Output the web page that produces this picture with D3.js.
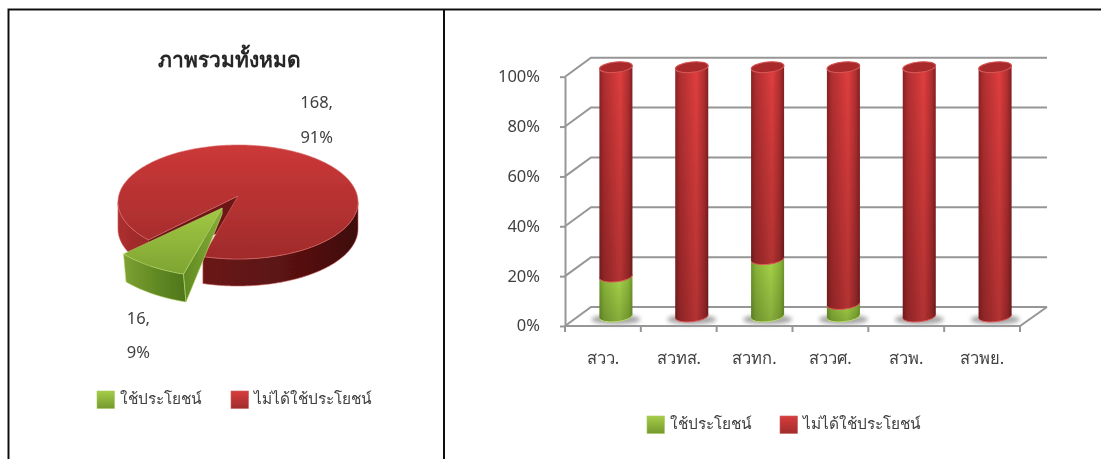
<!DOCTYPE html>
<html><head><meta charset="utf-8">
<script src="https://cdn.jsdelivr.net/npm/d3@7"></script>
<style>html,body{margin:0;background:#fff}svg{display:block}text{font-family:"Noto Sans",sans-serif;fill:#404040}</style>
</head><body><svg id="c" width="1101" height="459"></svg>
<script>
// ---- data ----
const pieTitle = "ภาพรวมทั้งหมด";
const seriesNames = ["ใช้ประโยชน์", "ไม่ได้ใช้ประโยชน์"];
const pieCounts = [16, 168];
const piePercents = ["9%", "91%"];
const categories = ["สวว.", "สวทส.", "สวทก.", "สววศ.", "สวพ.", "สวพย."];
const usedShare = [16, 0, 23, 5, 0, 0];
const unusedShare = [84, 100, 77, 95, 100, 100];
const yTicks = [0, 20, 40, 60, 80, 100];

const svg = d3.select("#c");
const defs = svg.append("defs");
function grad(id, x2, y2, stops){
  const g = defs.append("linearGradient").attr("id", id).attr("x1",0).attr("y1",0).attr("x2",x2).attr("y2",y2);
  stops.forEach(s => g.append("stop").attr("offset", s[0]).attr("stop-color", s[1]).attr("stop-opacity", s[2] === undefined ? 1 : s[2]));
}
grad("barRed",1,0,[[0,"#8a2224"],[.14,"#b02e30"],[.64,"#e03e3e"],[.88,"#b02e30"],[1,"#822022"]]);
grad("barGreen",1,0,[[0,"#6e982c"],[.15,"#8cb83a"],[.6,"#a8d64a"],[.88,"#8cb83a"],[1,"#709a2a"]]);
grad("barShade",0,1,[[0,"#000",0],[1,"#000",.2]]);
grad("pieTop",0,1,[[0,"#cc3838"],[1,"#a02b2b"]]);
grad("pieSide",1,0,[[0,"#ad2f2f"],[.12,"#9a2828"],[.36,"#6a1616"],[.75,"#581111"],[1,"#3e0a0a"]]);
grad("greenTop",0,1,[[0,"#a2c844"],[1,"#7ea432"]]);
grad("greenSide",1,0,[[0,"#7fa132"],[.5,"#628a24"],[1,"#4e761b"]]);
grad("greenWall",1,0,[[0,"#5f8a22"],[1,"#86ac36"]]);
grad("swGreen",0,1,[[0,"#a5cc48"],[1,"#75992e"]]);
grad("swRed",0,1,[[0,"#d83c3c"],[1,"#a02c2c"]]);
defs.append("filter").attr("id","soft").attr("x","-5%").attr("y","-5%").attr("width","110%").attr("height","110%")
  .append("feGaussianBlur").attr("stdDeviation",.45);
defs.append("filter").attr("id","shadow").attr("x","-30%").attr("y","-80%").attr("width","160%").attr("height","260%")
  .append("feGaussianBlur").attr("stdDeviation",2);

const root = svg.append("g").attr("filter","url(#soft)");

// ---- frame ----
root.append("path").attr("d","M8.5,459V9.5H1101M444,9.5V459").attr("fill","none").attr("stroke","#111").attr("stroke-width",2);

// ---- pie ----
const P = {cx:238, cy:202, rx:120, ry:57, th:27, apexLift:6, explode:.23, gScaleX:1.1, gScaleY:1.21, gTh:28};
root.append("text").attr("x",229).attr("y",67).attr("text-anchor","middle").attr("font-size",21).attr("font-weight",700).style("fill","#262626").text(pieTitle);
const startA = 197 * Math.PI/180;
const arcs = d3.pie().sort(null).startAngle(startA).endAngle(startA + 2*Math.PI)(pieCounts);
const [gArc, rArc] = arcs;
const project = (a, r, o={}) => [
  (o.x||P.cx) + P.rx*(o.sx||1)*r*Math.sin(a),
  (o.y||P.cy) - P.ry*(o.sy||1)*r*Math.cos(a) - (o.lift===undefined?P.apexLift:o.lift)*(1-r)
];
const samples = (a0, a1) => d3.range(0, 181).map(i => a0 + (a1-a0)*i/180);
const line = d3.line();
// red side: the parts of the rim that face the viewer
const sideParts = [[Math.PI/2, rArc.endAngle-2*Math.PI], [rArc.startAngle, 1.5*Math.PI]];
const sidePts = (a0,a1) => { const top = samples(a0,a1).map(a=>project(a,1));
  return top.concat(top.slice().reverse().map(p=>[p[0],p[1]+P.th])); };
root.append("path").attr("fill","url(#pieSide)").attr("stroke","#d06060").attr("stroke-width",.6)
  .attr("d", sideParts.map(s=>line(sidePts(s[0],s[1]))+"Z").join(""));
// cut wall seen through the gap
const apex = project(0,0), cutL = project(rArc.startAngle,1);
root.append("path").attr("fill","#6e1717").attr("d", line([apex,cutL,[cutL[0],cutL[1]+P.th],[apex[0],apex[1]+P.th]])+"Z");
root.append("path").attr("fill","url(#pieTop)").attr("stroke","#d96a6a").attr("stroke-width",.6)
  .attr("d", line([apex].concat(samples(rArc.startAngle, rArc.endAngle).map(a=>project(a,1))))+"Z");
// exploded green wedge
const mid = (gArc.startAngle+gArc.endAngle)/2;
const G = {x:P.cx+P.explode*P.rx*Math.sin(mid)-1, y:P.cy+1-P.apexLift-P.explode*P.ry*Math.cos(mid), sx:P.gScaleX, sy:P.gScaleY, lift:0};
const gPt = (a,r) => project(a,r,G);
const gA = gPt(0,0);
const gRim = samples(gArc.startAngle, gArc.endAngle).map(a=>gPt(a,1));
const skew = p => [p[0]+2.5, p[1]+P.gTh];
root.append("path").attr("fill","url(#greenSide)").attr("stroke","#b8d870").attr("stroke-width",.6)
  .attr("d", line(gRim.concat(gRim.slice().reverse().map(skew)))+"Z");
root.append("path").attr("fill","url(#greenWall)").attr("stroke","#b8d870").attr("stroke-width",.6)
  .attr("d", line([gA, gRim[0], skew(gRim[0]), [gA[0],gA[1]+6]])+"Z");
root.append("path").attr("fill","url(#greenTop)").attr("stroke","#b8d870").attr("stroke-width",.5)
  .attr("d", line([gA].concat(gRim))+"Z");
// pie labels
const pieLabels = [{x:150,y:[318,352],i:0},{x:333,y:[102,137],i:1}];
pieLabels.forEach(l=>{
  [pieCounts[l.i]+",", piePercents[l.i]].forEach((t,k)=>
    root.append("text").attr("x",l.x).attr("y",l.y[k]).attr("dy","0.35em").attr("text-anchor","end").attr("font-size",16.5).text(t));
});

// ---- legends ----
function legend(xs, y){
  seriesNames.forEach((n,i)=>{
    root.append("rect").attr("x",xs[i]).attr("y",y).attr("width",17.5).attr("height",17.5)
      .attr("fill",i?"url(#swRed)":"url(#swGreen)").attr("stroke",i?"#c86060":"#a8c860").attr("stroke-width",.6);
    root.append("text").attr("x",xs[i]+23).attr("y",y+12.5).attr("font-size",15.4).text(n);
  });
}
legend([97,231],391);
legend([647,780],416);

// ---- stacked cylinders ----
const D = {dx:26, dy:-19};
const x = d3.scaleBand().domain(categories).range([565,1020]);
const y = d3.scaleLinear().domain([0,100]).range([326,76.7]);
const gridColor = "#969696";
const grid = root.append("g").attr("fill","none").attr("stroke",gridColor).attr("stroke-width",2);
yTicks.forEach(t=>{
  grid.append("path").attr("d",line([[x.range()[0],y(t)],[x.range()[0]+D.dx,y(t)+D.dy],[x.range()[1]+D.dx+1,y(t)+D.dy]]));
});
grid.append("path").attr("d",line([[x.range()[0],y(0)],[x.range()[1],y(0)],[x.range()[1]+D.dx+1,y(0)+D.dy]]));
const yAxis = d3.axisLeft(y).tickValues(yTicks).tickFormat(d=>d+"%").tickSize(5).tickPadding(20).tickSizeOuter(0);
const ya = root.append("g").attr("transform",`translate(${x.range()[0]},0)`).call(yAxis);
const xAxis = d3.axisBottom(x).tickSize(0).tickPadding(31).tickSizeOuter(0);
const xa = root.append("g").attr("transform",`translate(0,${y(0)})`).call(xAxis);
[ya,xa].forEach(a=>{ a.selectAll("path,line").attr("stroke",gridColor).attr("stroke-width",2);
  a.selectAll("text").attr("font-size",16.5).attr("font-family",null); a.attr("font-family",null).attr("font-size",null); });
xa.select(".domain").remove();
ya.selectAll("text").attr("dy","0.3em");
xa.selectAll("text").attr("dy","0.4em");
root.append("g").attr("stroke",gridColor).attr("stroke-width",2).selectAll("line")
  .data(categories.map(c=>x(c)).concat([x.range()[1]])).join("line")
  .attr("x1",d=>d).attr("x2",d=>d).attr("y1",y(0)).attr("y2",y(0)+6);

const stack = d3.stack().keys([0,1]).value((d,k)=>d[k])(usedShare.map((u,i)=>[u,unusedShare[i]]));
const rx = 16.5, ry = 5.2, tilt = 6, lean = rx*Math.sin(tilt*Math.PI/180);
const bars = root.append("g");
const bx = c => x(c)+x.bandwidth()/2+D.dx/2;
const by = v => y(v)+D.dy/2;
function cyl(cx, v0, v1){
  const b = by(v0), t = by(v1);
  return `M${cx-rx},${t+lean}L${cx-rx},${b+lean}A${rx},${ry} ${-tilt} 0 0 ${cx+rx},${b-lean}L${cx+rx},${t-lean}A${rx},${ry} ${-tilt} 0 0 ${cx-rx},${t+lean}Z`;
}
bars.selectAll("ellipse").data(categories).join("ellipse")
  .attr("cx",c=>bx(c)).attr("cy",by(0)+3).attr("rx",rx+8).attr("ry",5).attr("fill","#a6a6a6").attr("filter","url(#shadow)");
categories.forEach((c,i)=>{
  stack.forEach((s,k)=>{
    const [v0,v1] = s[i];
    if(v1-v0<=0) return;
    const d = cyl(bx(c),v0,v1);
    bars.append("path").attr("d",d).attr("fill",k?"url(#barRed)":"url(#barGreen)");
    bars.append("path").attr("d",d).attr("fill","url(#barShade)");
    // rim along the lower edge
    bars.append("path").attr("fill","none").attr("stroke",k?"#e05a5a":"#bcdc70").attr("stroke-width",1)
      .attr("d",`M${bx(c)-rx},${by(v0)+lean}A${rx},${ry} ${-tilt} 0 0 ${bx(c)+rx},${by(v0)-lean}`);
  });
  // top cap of the stack
  bars.append("ellipse").attr("transform",`translate(${bx(c)},${by(100)}) rotate(${-tilt})`)
    .attr("rx",rx).attr("ry",ry).attr("fill","#a92a2c").attr("stroke","#d85a5a").attr("stroke-width",1);
});
</script></body></html>
